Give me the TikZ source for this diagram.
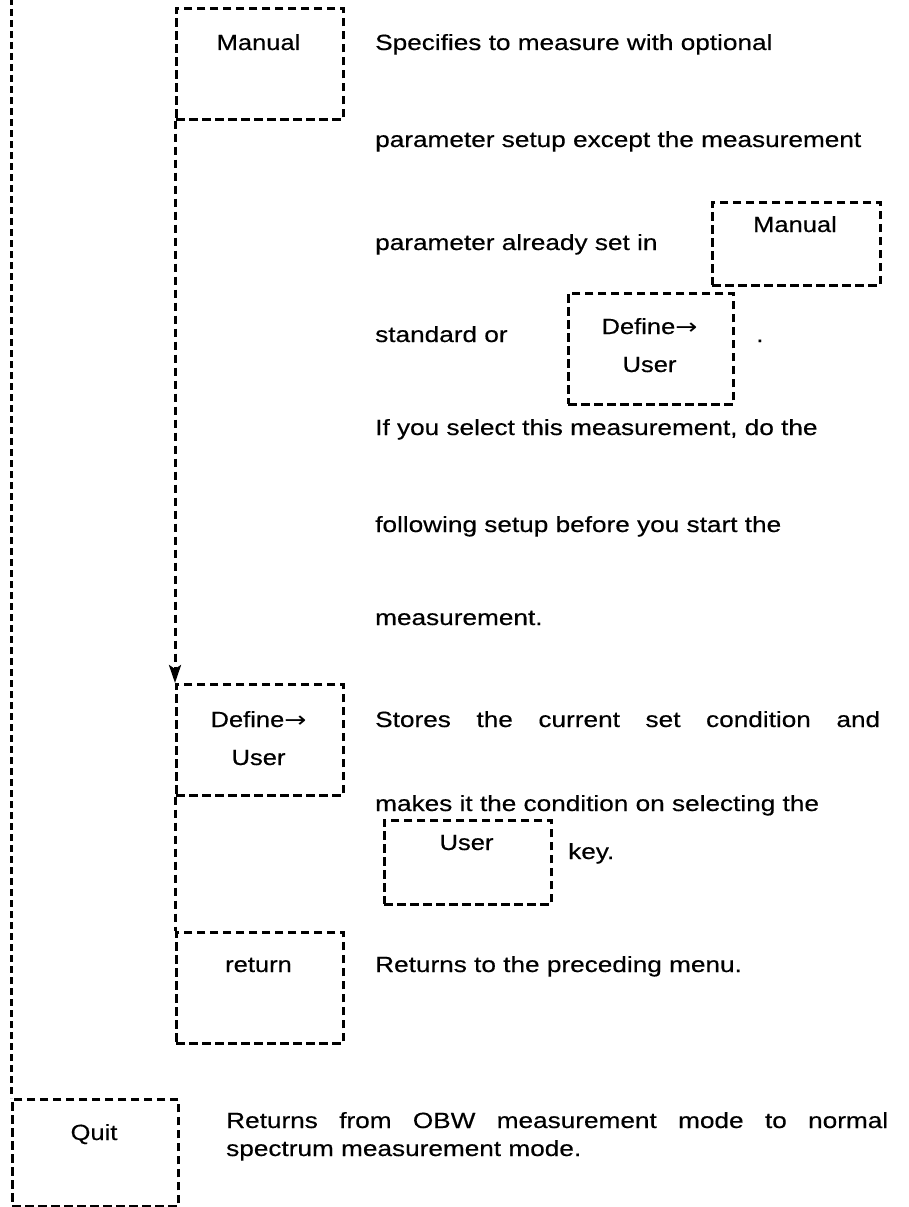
\documentclass[tikz,border=0pt]{standalone}
\usepackage{fontspec}
\setmainfont{Liberation Sans}[FakeStretch=1.16, FakeBold=0.4]
\newfontfamily\descfont{Liberation Sans}[FakeStretch=1.19, FakeBold=0.4]
\newfontfamily\arrfont{DejaVu Sans}[FakeStretch=1.2]
\newcommand{\rarr}{{\arrfont →}}
\usetikzlibrary{arrows.meta}
\begin{document}
\begin{tikzpicture}[x=1pt,y=-1pt,
  font=\fontsize{22}{26}\selectfont,
  dsh/.style={line width=2.6pt, dash pattern=on 8.5pt off 4.5pt},
  kbox/.style={dsh, draw, anchor=north west, inner sep=0pt, minimum width=167pt, minimum height=111pt},
  sbox/.style={kbox, minimum height=83pt},
  ktxt/.style={anchor=base, inner sep=0pt},
  txt/.style={anchor=base west, inner sep=0pt, font=\descfont\fontsize{22}{26}\selectfont},
  link/.style={dsh, line width=3pt}]
\useasboundingbox (0,0) rectangle (908,1207);

% left column keys
\node[kbox] (man) at (175,7) {};
\node[ktxt] (manT) at (258.5,50) {Manual};
\node[kbox] (def) at (175,683) {};
\node[ktxt] (defT) at (258.5,727) {Define\rarr};
\node[ktxt] (defU) at (258.5,765) {User};
\node[kbox] (ret) at (175,931) {};
\node[ktxt] (retT) at (258.5,972) {return};
\node[kbox, minimum width=166pt, minimum height=107pt] (quit) at (11,1098) {};
\node[ktxt] (quitT) at (94,1140) {Quit};

% connectors
\coordinate (top) at (11,-2);
\draw[link, dash pattern=on 7pt off 4pt] (top) -- (quit.north west);
\draw[link, -{Stealth[length=18pt,width=12pt,inset=4pt]}] (man.south west) -- (def.north west);
\draw[link] (def.south west) -- (ret.north west);

% inline keys
\node[sbox, minimum width=168pt] (man2) at (711,201) {};
\node[ktxt] (man2T) at (795,232) {Manual};
\node[kbox, minimum width=165pt] (def2) at (567,292) {};
\node[ktxt] (def2T) at (649.5,334) {Define\rarr};
\node[ktxt] (def2U) at (649.5,372) {User};
\node[sbox, minimum width=167pt, minimum height=84pt] (usr) at (383,819) {};
\node[ktxt] (usrT) at (466.5,850) {User};

% descriptions
\node[txt] (d1) at (375,50) {Specifies to measure with optional};
\node[txt] (d2) at (375,147) {parameter setup except the measurement};
\node[txt] (d3) at (375,250) {parameter already set in};
\node[txt] (d4) at (375,342) {standard or};
\node[txt] (d5) at (756,342) {.};
\node[txt] (d6) at (375,435) {If you select this measurement, do the};
\node[txt] (d7) at (375,532) {following setup before you start the};
\node[txt] (d8) at (375,625) {measurement.};
\node[txt] (e1) at (375,727) {\makebox[505pt][s]{Stores the current set condition and}};
\node[txt] (e2) at (375,811) {makes it the condition on selecting the};
\node[txt] (e3) at (568,859) {key.};
\node[txt] (f1) at (375,972) {Returns to the preceding menu.};
\node[txt] (g1) at (226,1128) {\makebox[662pt][s]{Returns from OBW measurement mode to normal}};
\node[txt] (g2) at (226,1156) {spectrum measurement mode.};
\end{tikzpicture}
\end{document}
